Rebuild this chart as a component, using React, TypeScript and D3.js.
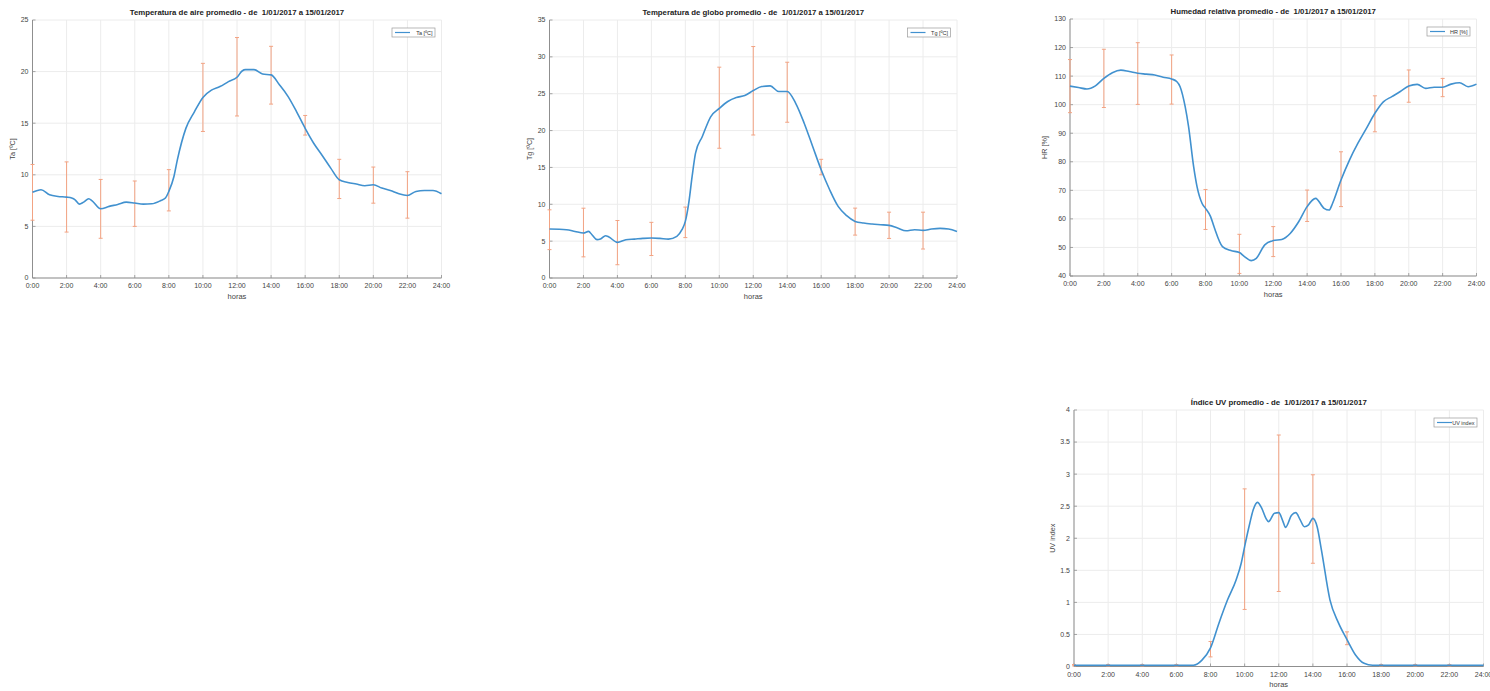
import React from "react";
import * as d3 from "d3";

// ---------- Data ----------
const xTickHours = [0, 2, 4, 6, 8, 10, 12, 14, 16, 18, 20, 22, 24];
const errHours = [0, 2, 4, 6, 8, 10, 12, 14, 16, 18, 20, 22];

// Air temperature
const taHours = [0, 0.5, 1, 1.5, 2, 2.3, 2.5, 2.75, 3, 3.3, 3.5, 4, 4.5, 5, 5.5, 6, 6.5, 7, 7.5, 7.8, 8, 8.3, 8.5, 9, 9.5, 10, 10.5, 11, 11.5, 12, 12.3, 12.5, 13, 13.5, 14, 14.5, 15, 15.5, 16, 16.5, 17, 17.5, 18, 18.5, 19, 19.5, 20, 20.5, 21, 21.5, 22, 22.5, 23, 23.5, 24];
const taValues = [8.3, 8.55, 8.06, 7.9, 7.84, 7.75, 7.58, 7.16, 7.35, 7.68, 7.48, 6.71, 6.94, 7.13, 7.35, 7.26, 7.16, 7.19, 7.48, 7.75, 8.39, 9.84, 11.45, 14.5, 16.1, 17.5, 18.2, 18.55, 19.03, 19.45, 20.06, 20.19, 20.19, 19.77, 19.68, 18.7, 17.58, 16.1, 14.5, 13.06, 11.87, 10.65, 9.52, 9.26, 9.1, 8.94, 9.03, 8.71, 8.48, 8.16, 8.0, 8.39, 8.48, 8.48, 8.16];
const taErrMean = [8.3, 7.85, 6.7, 7.2, 8.5, 17.5, 19.5, 19.65, 14.8, 9.6, 9.0, 8.05];
const taErrDev = [2.7, 3.4, 2.85, 2.2, 2.0, 3.3, 3.8, 2.8, 0.95, 1.9, 1.75, 2.25];
const taYTicks = [0, 5, 10, 15, 20, 25];

// Globe temperature
const tgHours = [0, 1, 1.5, 2, 2.3, 2.5, 2.8, 3, 3.3, 3.5, 4, 4.5, 5, 5.5, 6, 6.5, 7, 7.5, 7.8, 8, 8.2, 8.4, 8.6, 9, 9.5, 10, 10.5, 11, 11.5, 12, 12.5, 13, 13.5, 14, 14.5, 15, 15.5, 16, 16.5, 17, 17.5, 18, 18.5, 19, 19.5, 20, 20.5, 21, 21.5, 22, 22.5, 23, 23.5, 24];
const tgValues = [6.64, 6.55, 6.32, 6.1, 6.32, 5.87, 5.2, 5.28, 5.74, 5.56, 4.83, 5.2, 5.28, 5.37, 5.42, 5.37, 5.28, 5.65, 6.55, 7.68, 10.16, 13.78, 16.94, 19.2, 21.9, 23.0, 23.94, 24.48, 24.75, 25.43, 25.97, 26.06, 25.3, 25.3, 23.7, 21.0, 17.84, 14.68, 11.97, 9.71, 8.45, 7.68, 7.45, 7.32, 7.23, 7.14, 6.78, 6.41, 6.55, 6.46, 6.64, 6.73, 6.64, 6.32];
const tgErrMean = [6.55, 6.17, 4.8, 5.3, 7.55, 23.1, 25.4, 25.2, 15.05, 7.65, 7.15, 6.43];
const tgErrDev = [2.7, 3.3, 3.0, 2.25, 2.07, 5.5, 6.0, 4.07, 1.05, 1.83, 1.78, 2.5];
const tgYTicks = [0, 5, 10, 15, 20, 25, 30, 35];

// Relative humidity
const hrHours = [0, 0.5, 1, 1.5, 2, 2.5, 3, 3.5, 4, 4.5, 5, 5.5, 6, 6.3, 6.5, 6.8, 7, 7.3, 7.5, 7.8, 8, 8.3, 8.5, 9, 9.5, 10, 10.3, 10.7, 11, 11.5, 12, 12.5, 13, 13.5, 14, 14.5, 15, 15.3, 15.5, 16, 16.5, 17, 17.5, 18, 18.5, 19, 19.5, 20, 20.5, 21, 21.5, 22, 22.5, 23, 23.5, 24];
const hrValues = [106.5, 106.0, 105.5, 106.6, 109.2, 111.2, 112.1, 111.6, 111.0, 110.7, 110.4, 109.6, 109.0, 108.1, 106.3, 99.3, 92.3, 78.3, 71.3, 65.4, 63.7, 60.8, 57.3, 50.3, 48.9, 48.2, 46.8, 45.4, 46.2, 50.9, 52.4, 52.8, 54.9, 59.0, 64.3, 67.2, 63.7, 63.1, 65.4, 73.6, 80.6, 86.5, 91.7, 97.0, 101.0, 102.8, 104.6, 106.5, 107.1, 105.7, 106.1, 106.1, 107.2, 107.7, 106.3, 107.2];
const hrErrMean = [106.5, 109.2, 110.9, 108.8, 63.3, 47.75, 52.05, 64.6, 73.9, 96.8, 106.5, 106.0];
const hrErrDev = [9.3, 10.2, 10.8, 8.6, 7.0, 6.85, 5.25, 5.5, 9.6, 6.3, 5.65, 3.2];
const hrYTicks = [40, 50, 60, 70, 80, 90, 100, 110, 120, 130];

// UV index
const uvHours = [0, 2, 4, 6, 7, 7.5, 8, 8.5, 9, 9.5, 9.8, 10, 10.3, 10.5, 10.75, 11, 11.25, 11.4, 11.75, 12, 12.25, 12.4, 12.75, 13, 13.25, 13.5, 13.75, 14, 14.25, 14.5, 15, 15.5, 16, 16.5, 17, 17.5, 18, 20, 22, 24];
const uvValues = [0.02, 0.02, 0.02, 0.02, 0.02, 0.1, 0.29, 0.68, 1.04, 1.35, 1.61, 1.87, 2.23, 2.44, 2.56, 2.47, 2.31, 2.26, 2.39, 2.4, 2.26, 2.17, 2.36, 2.4, 2.29, 2.18, 2.21, 2.31, 2.18, 1.82, 1.04, 0.68, 0.42, 0.18, 0.05, 0.02, 0.02, 0.02, 0.02, 0.02];
const uvErrMean = [0.02, 0.02, 0.02, 0.02, 0.27, 1.83, 2.39, 2.3, 0.44, 0.02, 0.02, 0.02];
const uvErrDev = [0.01, 0.01, 0.01, 0.01, 0.12, 0.94, 1.22, 0.69, 0.1, 0.01, 0.01, 0.01];
const uvYTicks = [0, 0.5, 1, 1.5, 2, 2.5, 3, 3.5, 4];

// ---------- Styling ----------
const LINE = "#4191cf";
const ERR = "#f2a383";
const GRID = "#ececec";
const AXIS = "#8f8f8f";
const TXT = "#444";
const FONT = "'Liberation Sans', Arial, Helvetica, sans-serif";

type PanelProps = {
  left: number; top: number; right: number; bottom: number;
  yTicks: number[];
  title: string; ylabel: string; legend: string;
  hours: number[]; values: number[];
  errMean: number[]; errDev: number[];
  ylabelOffset: number;
};

function Panel(p: PanelProps) {
  const x = d3.scaleLinear().domain([0, 24]).range([p.left, p.right]);
  const y = d3.scaleLinear().domain([p.yTicks[0], p.yTicks[p.yTicks.length - 1]]).range([p.bottom, p.top]);
  const pts: [number, number][] = p.hours.map((h, i) => [h, p.values[i]]);
  const line = d3.line<[number, number]>().x(d => x(d[0])).y(d => y(d[1])).curve(d3.curveMonotoneX);
  const fmt = d3.format("~g");
  const hourFmt = (h: number) => `${h}:00`;
  const cx = (p.left + p.right) / 2;
  const legW = 43, legH = 9;
  const legX = p.right - 6.5 - legW, legY = p.top + 8;
  return (
    <g fontFamily={FONT}>
      {xTickHours.map(h => (
        <line key={"gx" + h} x1={x(h)} x2={x(h)} y1={p.top} y2={p.bottom} stroke={GRID} strokeWidth={1} />
      ))}
      {p.yTicks.map(t => (
        <line key={"gy" + t} x1={p.left} x2={p.right} y1={y(t)} y2={y(t)} stroke={GRID} strokeWidth={1} />
      ))}
      <line x1={p.left} x2={p.left} y1={p.top} y2={p.bottom} stroke={AXIS} strokeWidth={1} />
      <line x1={p.left} x2={p.right} y1={p.bottom} y2={p.bottom} stroke={AXIS} strokeWidth={1} />
      {xTickHours.map(h => (
        <g key={"xt" + h}>
          <line x1={x(h)} x2={x(h)} y1={p.bottom} y2={p.bottom - 3} stroke={AXIS} strokeWidth={0.8} />
          <text x={x(h)} y={p.bottom + 10} fontSize={7} fill={TXT} textAnchor="middle">{hourFmt(h)}</text>
        </g>
      ))}
      {p.yTicks.map(t => (
        <g key={"yt" + t}>
          <line x1={p.left} x2={p.left + 3} y1={y(t)} y2={y(t)} stroke={AXIS} strokeWidth={0.8} />
          <text x={p.left - 4} y={y(t) + 2.4} fontSize={7} fill={TXT} textAnchor="end">{fmt(t)}</text>
        </g>
      ))}
      <text x={cx} y={p.top - 5} fontSize={7.8} fontWeight="bold" fill="#222" textAnchor="middle" style={{ whiteSpace: "pre" }}>{p.title}</text>
      <text x={cx} y={p.bottom + 20.5} fontSize={7.5} fill={TXT} textAnchor="middle">horas</text>
      <text transform={`translate(${p.left - p.ylabelOffset},${(p.top + p.bottom) / 2}) rotate(-90)`} fontSize={7.2} fill={TXT} textAnchor="middle">{p.ylabel}</text>
      {errHours.map((h, i) => {
        const xx = x(h);
        const y1 = y(p.errMean[i] + p.errDev[i]);
        const y2 = y(p.errMean[i] - p.errDev[i]);
        return (
          <g key={"e" + h} stroke={ERR} strokeWidth={1}>
            <line x1={xx} x2={xx} y1={y1} y2={y2} />
            <line x1={xx - 2} x2={xx + 2} y1={y1} y2={y1} />
            <line x1={xx - 2} x2={xx + 2} y1={y2} y2={y2} />
          </g>
        );
      })}
      <path d={line(pts) || ""} fill="none" stroke={LINE} strokeWidth={1.6} />
      <rect x={legX} y={legY} width={legW} height={legH} fill="#fff" stroke="#9a9a9a" strokeWidth={0.7} />
      <line x1={legX + 3} x2={legX + 18} y1={legY + legH / 2} y2={legY + legH / 2} stroke={LINE} strokeWidth={1.2} />
      <text x={legX + legW - 2.5} y={legY + legH / 2 + 2} fontSize={5.5} fill="#333" textAnchor="end">{p.legend}</text>
    </g>
  );
}

export default function App() {
  return (
    <svg width={1490} height={691} style={{ position: "absolute", left: 0, top: 0, background: "#fff" }}>
      <rect width={1490} height={691} fill="#fff" />
      <Panel left={32.5} top={20} right={441.5} bottom={278} yTicks={taYTicks}
        title="Temperatura de aire promedio - de  1/01/2017 a 15/01/2017" ylabel="Ta [ºC]" legend="Ta [ºC]"
        hours={taHours} values={taValues} errMean={taErrMean} errDev={taErrDev} ylabelOffset={17.5} />
      <Panel left={549.5} top={20} right={957} bottom={278} yTicks={tgYTicks}
        title="Temperatura de globo promedio - de  1/01/2017 a 15/01/2017" ylabel="Tg [ºC]" legend="Tg [ºC]"
        hours={tgHours} values={tgValues} errMean={tgErrMean} errDev={tgErrDev} ylabelOffset={18} />
      <Panel left={1070} top={19} right={1476.5} bottom={276} yTicks={hrYTicks}
        title="Humedad relativa promedio - de  1/01/2017 a 15/01/2017" ylabel="HR [%]" legend="HR [%]"
        hours={hrHours} values={hrValues} errMean={hrErrMean} errDev={hrErrDev} ylabelOffset={23} />
      <Panel left={1074} top={410} right={1483.5} bottom={666.5} yTicks={uvYTicks}
        title="Índice UV promedio - de  1/01/2017 a 15/01/2017" ylabel="UV index" legend="UV index"
        hours={uvHours} values={uvValues} errMean={uvErrMean} errDev={uvErrDev} ylabelOffset={19} />
    </svg>
  );
}
